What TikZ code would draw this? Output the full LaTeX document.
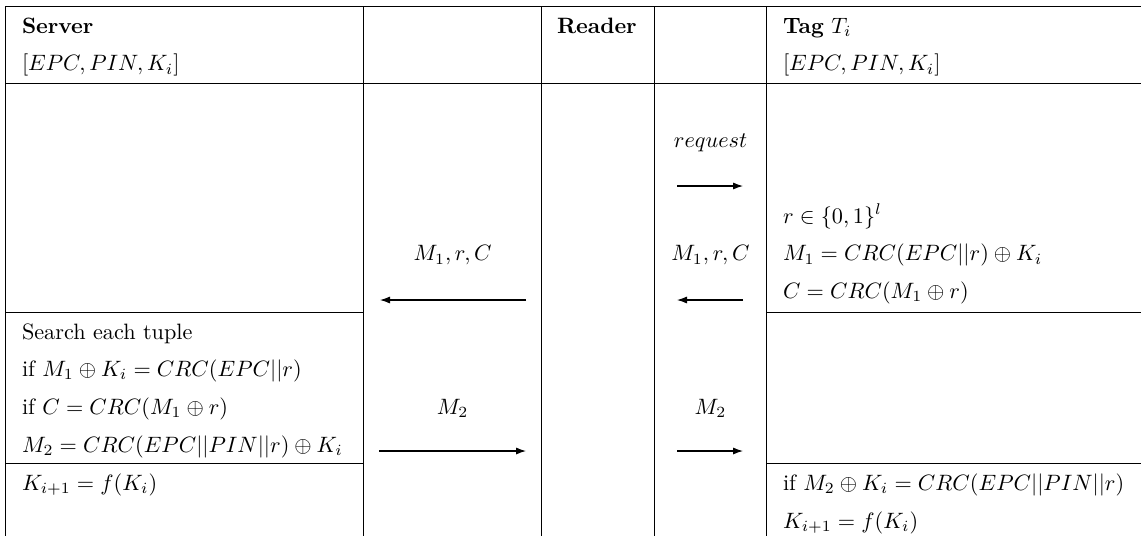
\documentclass[tikz,border=0pt]{standalone}
\usetikzlibrary{arrows.meta}
\begin{document}
\tikzset{
  rule/.style={line width=0.4pt},
  txt/.style={anchor=base west, inner sep=0pt, outer sep=0pt},
  lbl/.style={anchor=base, inner sep=0pt, outer sep=0pt},
  msg/.style={-{Latex[length=4.5pt,width=3.2pt]}, line width=0.5pt},
}
\begin{tikzpicture}[x=0.45pt,y=-0.45pt]
\useasboundingbox (0,0) rectangle (1141,536);
% table rules
\draw[rule] (5,6) -- (1141,6);
\draw[rule] (5,83) -- (1141,83);
\foreach \x in {5,363.5,541.7,654.3,766.7} \draw[rule] (\x,6) -- (\x,536);
\draw[rule] (5,312.5) -- (363.5,312.5);
\draw[rule] (766.7,312.5) -- (1141,312.5);
\draw[rule] (5,463) -- (363.5,463);
\draw[rule] (766.7,463) -- (1141,463);
% header
\node[txt] (server) at (22,33) {\textbf{Server}};
\node[txt] (sdata) at (22,70.7) {$[EPC, PIN, K_i]$};
\node[txt] (reader) at (557,33) {\textbf{Reader}};
\node[txt] (tag) at (783,33) {\textbf{Tag} $T_i$};
\node[txt] (tdata) at (783,70.7) {$[EPC, PIN, K_i]$};
% tag side
\node[txt] (t1) at (783,223) {$r \in \{0,1\}^l$};
\node[txt] (t2) at (783,260.7) {$M_1 = CRC(EPC||r) \oplus K_i$};
\node[txt] (t3) at (783,298.4) {$C = CRC(M_1 \oplus r)$};
\node[txt] (t4) at (783,490) {if $M_2 \oplus K_i = CRC(EPC||PIN||r)$};
\node[txt] (t5) at (783,528) {$K_{i+1} = f(K_i)$};
% server side
\node[txt] (s1) at (22,339) {Search each tuple};
\node[txt] (s2) at (22,376.6) {if $M_1 \oplus K_i = CRC(EPC||r)$};
\node[txt] (s3) at (22,414.3) {if $C = CRC(M_1 \oplus r)$};
\node[txt] (s4) at (22,452) {$M_2 = CRC(EPC||PIN||r) \oplus K_i$};
\node[txt] (s5) at (22,490) {$K_{i+1} = f(K_i)$};
% message labels
\node[lbl] (lreq) at (710.5,147.6) {$request$};
\node[lbl] (lm1a) at (452.6,260.7) {$M_1, r, C$};
\node[lbl] (lm1b) at (710.5,260.7) {$M_1, r, C$};
\node[lbl] (lm2a) at (452.6,414.3) {$M_2$};
\node[lbl] (lm2b) at (710.5,414.3) {$M_2$};
% arrow end points
\coordinate (rqA) at (677,186);  \coordinate (rqB) at (743,186);
\coordinate (m1A) at (743,300);  \coordinate (m1B) at (677,300);
\coordinate (m1C) at (526,300);  \coordinate (m1D) at (380,300);
\coordinate (m2A) at (379,451);  \coordinate (m2B) at (526,451);
\coordinate (m2C) at (677,451);  \coordinate (m2D) at (743,451);
\draw[msg] (rqA) -- (rqB);
\draw[msg] (m1A) -- (m1B);
\draw[msg] (m1C) -- (m1D);
\draw[msg] (m2A) -- (m2B);
\draw[msg] (m2C) -- (m2D);
\end{tikzpicture}
\end{document}
